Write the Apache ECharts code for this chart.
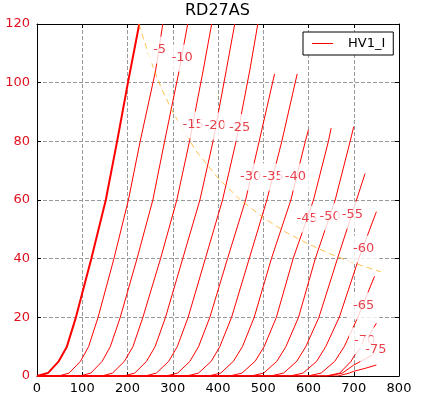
<!DOCTYPE html>
<html><head><meta charset="utf-8">
<script src="https://cdn.jsdelivr.net/npm/echarts@6/dist/echarts.min.js"></script>
<style>html,body{margin:0;padding:0;background:#fff}#c{width:421px;height:399px}</style>
</head><body><div id="c"></div>
<script>
// Plate curves [plate voltage V, plate current mA], one per grid voltage
const curveG0   = [[0,0],[24,1],[48,5],[66,10],[86,20],[120,40],[152,60],[177,80],[201,100],[226,120]];
const curveG5   = [[0,0],[48,0],[71,1],[96,5],[114,10],[135,20],[170,40],[202,60],[228,80],[262,104],[278,120]];
const curveG10  = [[0,0],[95,0],[119,1],[144,5],[162,10],[184,20],[221,40],[256,60],[282,80],[314,104],[333,120]];
const curveG15  = [[0,0],[143,0],[167,1],[193,5],[212,10],[234,20],[273,40],[309,60],[337,80],[367,104],[386,120]];
const curveG20  = [[0,0],[191,0],[216,1],[242,5],[261,10],[284,20],[322,40],[360,60],[389,80],[418,104],[437,120]];
const curveG25  = [[0,0],[239,0],[264,1],[291,5],[310,10],[334,20],[372,40],[410,60],[440,80],[470,104],[488,120]];
const curveG30  = [[0,0],[285,0],[311,1],[338,5],[357,10],[382,20],[421,40],[461,60],[491,80],[525,103]];
const curveG35  = [[0,0],[331,0],[357,1],[385,5],[404,10],[430,20],[469,40],[508,60],[541,80],[575,103]];
const curveG40  = [[0,0],[379,0],[406,1],[434,5],[454,10],[480,20],[518,40],[561,60],[593,80],[600,84]];
const curveG45  = [[0,0],[426,0],[453,1],[482,5],[502,10],[529,20],[566,40],[611,60],[644,80],[650,84.5]];
const curveG50  = [[0,0],[473,0],[501,1],[530,5],[550,10],[578,20],[615,40],[659,60],[692,80],[700,85]];
const curveG55  = [[0,0],[516,0],[545,1],[574,5],[594,10],[623,20],[664,40],[706,60],[725,69]];
const curveG60  = [[0,0],[559,0],[588,1],[618,5],[638,10],[668,20],[711,40],[750,56]];
const curveG65  = [[0,0],[598,0],[628,1],[658,5],[679,10],[709,20],[746,34]];
const curveG70  = [[0,0],[639,0],[669,1],[694,5],[700,6.6],[725,11.5],[750,18]];
const curveG75  = [[0,0],[645,0],[675,1],[700,3.75],[725,5.8],[750,8]];
const curveG80  = [[0,0],[665,0],[690,1],[700,1.6],[725,2.6],[750,3.75]];
const curves = [curveG0,curveG5,curveG10,curveG15,curveG20,curveG25,curveG30,curveG35,
                curveG40,curveG45,curveG50,curveG55,curveG60,curveG65,curveG70,curveG75,curveG80];

// Max plate dissipation curve
const dissipation = [[225,120],[250,108],[275,98],[300,90],[350,77],[400,67.5],[450,60],[500,54],
                     [550,49],[600,45],[650,41.5],[700,38.5],[760,35.5]];

// Curve labels (grid voltage) and where they sit
const labelText = ['-5','-10','-15','-20','-25','-30','-35','-40','-45','-50','-55','-60','-65','-70','-75'];
const labelV    = [271, 321, 345, 394, 448, 472, 522, 571, 597, 648, 697, 722, 722, 724, 749];
const labelI    = [111.1, 108.4, 85.6, 85.2, 84.7, 67.8, 67.8, 67.8, 53.5, 54.3, 54.9, 43.3, 23.9, 11.9, 8.9];

const xMin = 0, xMax = 800, xStep = 100;
const yMin = 0, yMax = 120, yStep = 20;

const RED = '#ff0000';
const TXTRED = '#e0101e';
const FONT = 'DejaVu Sans';

const chart = echarts.init(document.getElementById('c'), null, {renderer:'canvas'});

const series = curves.map((d, i) => ({
  type: 'line', name: 'HV1_I', data: d, symbol: 'none', showSymbol: false,
  lineStyle: {color: RED, width: i === 0 ? 2 : 1}, itemStyle: {color: RED},
  z: 2, silent: true, clip: true, animation: false
}));
series.push({
  type: 'line', name: 'Pmax', data: dissipation, symbol: 'none', showSymbol: false,
  lineStyle: {color: '#ffa500', width: 1, type: [6, 4], opacity: 0.7},
  z: 3, silent: true, clip: true, animation: false
});
series.push({
  type: 'scatter', name: 'labels', z: 10, silent: true, animation: false,
  data: labelV.map((v, i) => [v, labelI[i], labelText[i]]),
  symbolSize: 1, itemStyle: {color: 'rgba(0,0,0,0)'},
  label: {show: true, position: 'inside', formatter: p => p.data[2], color: TXTRED,
          fontSize: 13, fontFamily: FONT, backgroundColor: '#fff', padding: [7, 5]},
  labelLayout: {hideOverlap: false}
});

const axisCommon = {
  axisLine: {show: true, onZero: false, lineStyle: {color: '#000', width: 1}},
  axisTick: {show: true, inside: true, length: 4, lineStyle: {color: '#000', width: 1}}
};

chart.setOption({
  animation: false,
  backgroundColor: '#fff',
  title: {text: 'RD27AS', left: 185, top: 3, padding: 0,
          textStyle: {fontSize: 16, fontWeight: 'normal', color: '#000', fontFamily: FONT}},
  legend: {data: ['HV1_I'], left: 303, top: 32, selectedMode: false,
           backgroundColor: '#fff', borderColor: '#000', borderWidth: 1, borderRadius: 0,
           padding: [5, 8, 5, 9], icon: 'rect', itemWidth: 21, itemHeight: 1,
           itemStyle: {color: RED, borderWidth: 0},
           textStyle: {fontSize: 13, color: '#000', fontFamily: FONT, padding: [0, 0, 0, 10]}},
  grid: {left: 37, top: 24, width: 362, height: 352, containLabel: false, outerBoundsMode: 'none'},
  xAxis: [
    Object.assign({type: 'value', min: xMin, max: xMax, interval: xStep, position: 'bottom',
      axisLabel: {color: '#000', fontSize: 13, fontFamily: FONT, margin: 6},
      splitLine: {show: true, lineStyle: {color: '#999', width: 1, type: [4, 2]}}}, axisCommon),
    Object.assign({type: 'value', min: xMin, max: xMax, interval: xStep, position: 'top',
      axisLabel: {show: false}, splitLine: {show: false}}, axisCommon)
  ],
  yAxis: [
    Object.assign({type: 'value', min: yMin, max: yMax, interval: yStep, position: 'left',
      axisLabel: {color: TXTRED, fontSize: 13, fontFamily: FONT, margin: 7},
      splitLine: {show: true, lineStyle: {color: '#999', width: 1, type: [4, 2]}}}, axisCommon),
    Object.assign({type: 'value', min: yMin, max: yMax, interval: yStep, position: 'right',
      axisLabel: {show: false}, splitLine: {show: false}}, axisCommon)
  ],
  series: series
});
</script></body></html>
